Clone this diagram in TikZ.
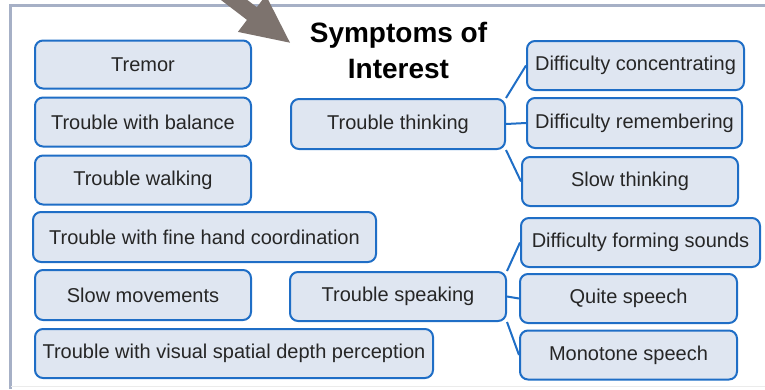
\documentclass[tikz,border=0pt]{standalone}
\usepackage{fontspec}
\setmainfont{Liberation Sans}
\definecolor{boxline}{HTML}{1F6EC6}
\definecolor{boxfill}{HTML}{DFE6F1}
\definecolor{frameline}{HTML}{A6B0C6}
\definecolor{pointer}{HTML}{7D736E}
\definecolor{ink}{HTML}{262626}
\begin{document}
\begin{tikzpicture}[x=1pt,y=-1pt,
  symbox/.style={draw=boxline,fill=boxfill,line width=2pt,rounded corners=8pt,
    inner sep=0pt,align=center,text=ink,font=\fontsize{20}{22}\selectfont},
  link/.style={draw=boxline,line width=2pt}]
\useasboundingbox (0,0) rectangle (765,389);

% outer frame
\draw[frameline,line width=3pt] (10.5,389) -- (10.5,5) -- (766,5);
\draw[black!8,line width=1.5pt] (10.5,386.5) -- (766,386.5);

% pointer arrow entering from the top
\fill[pointer] (183.5,-28.6) -- (193.3,-41.4) -- (256.8,7.2) -- (265.9,-4.7) -- (290,42.7)
  -- (237.9,31.9) -- (247.0,19.9) -- cycle;

% title
\node[font=\fontsize{28}{36}\selectfont\bfseries,align=center,text=black]
  (title) at (398.5,50) {Symptoms of\\Interest};

% motor symptoms
\node[symbox,minimum width=216pt,minimum height=48pt] (tremor)   at (143,64.5)  {Tremor};
\node[symbox,minimum width=216pt,minimum height=49pt] (balance)  at (143,122)   {Trouble with balance};
\node[symbox,minimum width=216pt,minimum height=49pt] (walking)  at (143,180)   {Trouble walking};
\node[symbox,minimum width=343pt,minimum height=50pt] (fine)     at (204.5,237) {Trouble with fine hand coordination};
\node[symbox,minimum width=216pt,minimum height=50pt] (slowmov)  at (143,295)   {Slow movements};
\node[symbox,minimum width=398pt,minimum height=49pt] (visual)   at (234,353.5) {Trouble with visual spatial depth perception};

% grouped symptoms
\node[symbox,minimum width=214pt,minimum height=50pt] (thinking) at (398,124)   {Trouble thinking};
\node[symbox,minimum width=216pt,minimum height=49pt] (speaking) at (398,296.5) {Trouble speaking};

\node[symbox,minimum width=217pt,minimum height=49pt] (conc)      at (635.5,65.5)  {Difficulty concentrating};
\node[symbox,minimum width=215pt,minimum height=50pt] (remember)  at (634.5,123)   {Difficulty remembering};
\node[symbox,minimum width=216pt,minimum height=49pt] (slowthink) at (630,181.5)   {Slow thinking};
\node[symbox,minimum width=239pt,minimum height=49pt] (forming)   at (640.5,242.5) {Difficulty forming sounds};
\node[symbox,minimum width=217pt,minimum height=49pt] (quiet)     at (628.5,298.5) {Quite speech};
\node[symbox,minimum width=217pt,minimum height=49pt] (monotone)  at (628.5,355)   {Monotone speech};

% branches
\draw[link] (thinking.north east) -- (conc.west);
\draw[link] (thinking.east) -- (remember.west);
\draw[link] (thinking.south east) -- (slowthink.west);
\draw[link] (speaking.north east) -- (forming.west);
\draw[link] (speaking.east) -- (quiet.west);
\draw[link] (speaking.south east) -- (monotone.west);
\end{tikzpicture}
\end{document}
